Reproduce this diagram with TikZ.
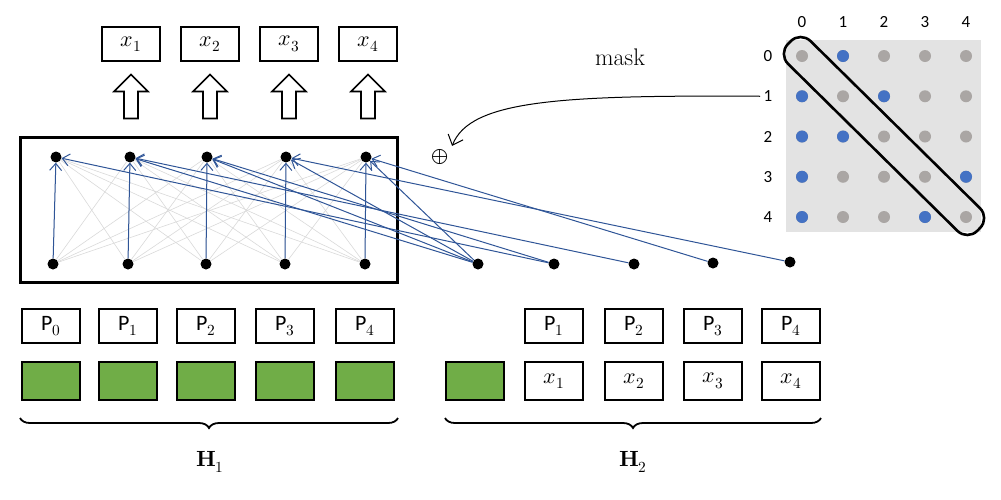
\documentclass[tikz,border=0pt]{standalone}
\usepackage{fontspec}
\usepackage{unicode-math}
\setmathfont{Latin Modern Math}
\newfontfamily\calib{Carlito}
\usepackage{tikz}
\usetikzlibrary{shapes.arrows,decorations.pathreplacing,calc,arrows.meta}
\definecolor{linkblue}{RGB}{47,85,151}
\definecolor{dotblue}{RGB}{68,114,196}
\definecolor{dotgray}{RGB}{170,166,164}
\definecolor{boxgreen}{RGB}{112,173,71}
\tikzset{
  cell/.style={draw, line width=1.6pt, minimum width=58pt, minimum height=34pt, inner sep=0pt, font=\fontsize{22}{22}\selectfont\calib},
  greencell/.style={cell, fill=boxgreen, minimum height=38pt},
  unit/.style={circle, fill=black, inner sep=0pt, minimum size=11pt},
  mdot/.style={circle, inner sep=0pt, minimum size=12pt},
  link/.style={linkblue, line width=1pt, -{Straight Barb[length=7pt,width=12pt]}},
  up/.style={single arrow, draw, line width=1.6pt, shape border rotate=90, minimum height=44pt, minimum width=34pt, single arrow head extend=4pt, inner sep=2pt},
}
\begin{document}
\begin{tikzpicture}[x=1pt,y=-1pt]
\useasboundingbox (0,0) rectangle (1001,499);

        %Outputs
        \foreach \i/\x in {1/131,2/210,3/289,4/368} {
          \node [cell] (out\i) at (\x,44) {$x_\i$};
          \node [up] (arr\i) at (\x,100) {};
        }

        %Attention block
        \node [draw, line width=3pt, minimum width=377pt, minimum height=145pt] (block) at (208.5,209.5) {};
        \foreach \i/\x/\y in {0/56/157,1/130/157,2/207/157,3/286/157,4/366/157} \node [unit] (t\i) at (\x,\y) {};
        \foreach \i/\x in {0/53,1/128,2/206,3/285,4/365} \node [unit] (b\i) at (\x,264) {};
        \foreach \i/\x/\y in {0/478/264,1/554/264,2/634/264,3/713/263,4/790/262} \node [unit] (s\i) at (\x,\y) {};
        \foreach \i in {0,...,4} \foreach \j in {0,...,4}
          \draw [black!15, line width=0.6pt] (b\i) -- (t\j);
        \foreach \i in {0,...,4} \draw [link] (b\i) -- (t\i);

        %Links from the second stream
        \foreach \q/\k in {0/1,1/0,1/2,2/0,2/1,3/0,3/4,4/0,4/3}
          \draw [link] (s\k) -- (t\q);

        \node [font=\fontsize{22}{22}\selectfont] (plus) at (440,157) {$\oplus$};
        \node [font=\fontsize{24}{24}\selectfont] (mask) at (620,57) {mask};

        %Mask matrix
        \fill [black!11] (786,40) rectangle (981,232);
        \foreach \c/\x in {0/802,1/843,2/884,3/925,4/966} {
          \node [font=\fontsize{17}{17}\selectfont\calib] (col\c) at (\x,22) {\c};
          \node [font=\fontsize{17}{17}\selectfont\calib] (row\c) at (768,56+40.25*\c) {\c};
        }
        \foreach \r in {0,...,4} \foreach \c in {0,...,4}
          \node [mdot, fill=dotgray] (m\r\c) at (802+41*\c,56+40.25*\r) {};
        \foreach \r/\c in {0/1,1/0,1/2,2/0,2/1,3/0,3/4,4/0,4/3}
          \node [mdot, fill=dotblue] at (m\r\c) {};
        \draw [line width=2.6pt, rounded corners=14pt, rotate around={-44.6:(884,136)}]
          ($(884,136)+(-133,-16)$) rectangle ($(884,136)+(133,16)$);
        \draw [-{Straight Barb[length=9pt,width=16pt]}, line width=1pt] (row1.west) .. controls (560,95) and (470,100) .. (plus.north east);

        %Positions
        \foreach \i/\x in {0/51,1/128,2/206,3/285,4/365} {
          \node [cell] (p\i) at (\x,326) {P$_\i$};
          \node [greencell] (g\i) at (\x,381) {};
        }
        \node [greencell] (h0) at (475,381) {};
        \foreach \i/\x in {1/554,2/634,3/713,4/791} {
          \node [cell] (q\i) at (\x,326) {P$_\i$};
          \node [cell, minimum height=38pt] (h\i) at (\x,381) {$x_\i$};
        }

        %Braces
        \draw [decorate, decoration={brace, mirror, amplitude=10pt}, line width=1.8pt] (20,418) -- (398,418);
        \draw [decorate, decoration={brace, mirror, amplitude=10pt}, line width=1.8pt] (445,418) -- (821,418);
        \node [font=\fontsize{22}{22}\selectfont] (H1) at (210,462) {$\symbf{H}_1$};
        \node [font=\fontsize{22}{22}\selectfont] (H2) at (633,462) {$\symbf{H}_2$};

\end{tikzpicture}
\end{document}
